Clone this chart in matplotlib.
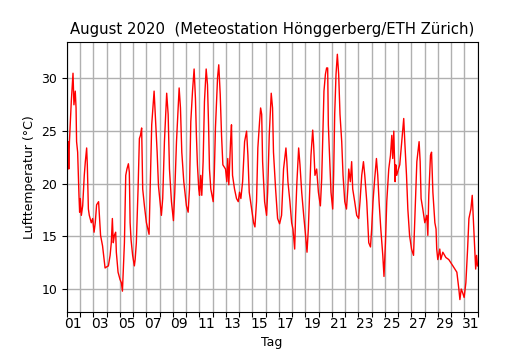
import matplotlib
matplotlib.use("Agg")
import matplotlib.pyplot as plt
from matplotlib.ticker import FixedLocator, FixedFormatter, NullFormatter

# time in days since 1 Aug 2020 00:00, air temperature in deg C
t_days = [
    0.00, 0.05, 0.10, 0.15, 0.20, 0.25, 0.34, 0.47, 0.54, 0.64, 0.70, 0.74, 0.82, 0.92, 0.97,
    1.02, 1.10, 1.20, 1.32, 1.40, 1.50, 1.55, 1.63, 1.70, 1.85, 1.95,
    2.06, 2.15, 2.25, 2.40, 2.55, 2.70, 2.89,
    3.00, 3.14, 3.27, 3.36, 3.44, 3.51, 3.59, 3.69, 3.74, 3.87,
    4.02, 4.12, 4.20, 4.35, 4.45, 4.54, 4.65, 4.72, 4.78, 4.85, 4.97,
    5.10, 5.16, 5.25, 5.38, 5.48, 5.56, 5.65, 5.73, 5.86,
    6.01, 6.21, 6.31, 6.41, 6.59, 6.69, 6.82, 6.92,
    7.14, 7.24, 7.37, 7.54, 7.65, 7.75, 7.90,
    8.05, 8.15, 8.28, 8.48, 8.58, 8.68, 8.83,
    9.03, 9.16, 9.26, 9.36, 9.49, 9.61, 9.71, 9.78, 9.86, 9.96,
    10.02, 10.11, 10.19, 10.29, 10.39, 10.52, 10.62, 10.70, 10.77, 10.87,
    11.05, 11.13, 11.22, 11.38, 11.47, 11.58, 11.68, 11.78, 11.98,
    12.08, 12.15, 12.23, 12.36, 12.43, 12.51, 12.66, 12.81, 12.94,
    13.04, 13.14, 13.27, 13.42, 13.57, 13.67, 13.77, 13.95,
    14.10, 14.20, 14.32, 14.42, 14.55, 14.63, 14.71, 14.78, 14.93,
    15.08, 15.16, 15.28, 15.43, 15.53, 15.60, 15.76, 15.91,
    16.06, 16.21, 16.36, 16.54, 16.61, 16.69, 16.84, 16.97,
    17.07, 17.20, 17.27, 17.37, 17.50, 17.60, 17.73, 17.88,
    18.00, 18.13, 18.23, 18.33, 18.43, 18.56, 18.63, 18.73, 18.86, 18.99,
    19.14, 19.24, 19.31, 19.41, 19.52, 19.61, 19.69, 19.74, 19.84, 19.94,
    20.07, 20.14, 20.22, 20.32, 20.42, 20.52, 20.62, 20.75, 20.85, 20.98,
    21.11, 21.21, 21.28, 21.40, 21.50, 21.58, 21.73, 21.88,
    22.03, 22.13, 22.26, 22.39, 22.49, 22.64, 22.79, 22.92,
    23.01, 23.11, 23.24, 23.37, 23.47, 23.57, 23.70, 23.85, 23.94,
    24.05, 24.15, 24.30, 24.43, 24.53, 24.60, 24.68, 24.78, 24.83, 24.90,
    25.03, 25.13, 25.28, 25.43, 25.51, 25.64, 25.74, 25.87,
    26.02, 26.17, 26.29, 26.42, 26.59, 26.67, 26.74, 26.87,
    27.02, 27.17, 27.25, 27.32, 27.45, 27.53, 27.63, 27.78, 27.87, 27.92,
    28.00, 28.15, 28.23, 28.38, 28.61, 28.83, 28.99,
    29.14, 29.29, 29.44, 29.59, 29.67, 29.77, 29.89, 29.99,
    30.12, 30.25, 30.35, 30.50, 30.60, 30.67, 30.78, 30.86, 30.93, 31.00,
]
temp_c = [
    22.8, 21.5, 24.0, 21.4, 24.0, 25.3, 27.8, 30.5, 27.5, 28.8, 27.2, 24.0, 23.0, 18.9, 17.3,
    18.6, 17.0, 17.9, 20.8, 22.1, 23.4, 21.8, 17.6, 17.0, 16.3, 16.7,
    15.4, 16.3, 18.0, 18.3, 15.1, 14.1, 12.0,
    12.1, 12.2, 13.2, 14.4, 16.7, 14.4, 15.1, 15.4, 13.5, 11.6,
    10.9, 10.6, 9.8, 14.4, 20.8, 21.4, 21.9, 21.1, 16.3, 14.7, 13.2,
    12.2, 12.8, 14.4, 19.5, 24.3, 24.6, 25.3, 19.5, 17.9,
    16.3, 15.2, 20.2, 25.6, 28.8, 26.2, 23.0, 19.8,
    17.0, 18.6, 24.0, 28.6, 26.6, 21.4, 18.3,
    16.5, 19.2, 24.0, 29.1, 27.2, 23.0, 20.2,
    17.9, 17.3, 19.5, 25.9, 28.8, 30.9, 28.1, 24.7, 21.8, 19.5,
    18.9, 20.8, 18.9, 22.1, 27.8, 30.9, 29.4, 25.6, 21.4, 19.5,
    18.3, 20.8, 25.3, 30.1, 31.3, 28.5, 24.6, 21.8, 21.4,
    20.2, 22.4, 19.9, 24.0, 25.6, 20.8, 19.5, 18.6, 18.3,
    19.2, 18.6, 20.2, 24.0, 25.0, 22.7, 19.2, 17.6,
    16.3, 15.9, 18.3, 23.4, 25.9, 27.2, 26.6, 22.1, 18.3,
    17.0, 19.2, 24.6, 28.6, 27.2, 23.0, 19.5, 16.7,
    16.2, 17.0, 21.4, 23.4, 22.1, 20.2, 18.3, 16.3,
    15.7, 13.8, 17.0, 20.2, 23.4, 21.8, 19.2, 17.0,
    15.4, 13.5, 15.7, 19.2, 22.7, 25.1, 23.7, 20.8, 21.4, 19.2,
    17.9, 20.5, 24.0, 28.8, 30.4, 31.0, 31.0, 25.6, 22.4, 19.2,
    17.6, 20.8, 26.6, 30.4, 32.3, 30.4, 26.6, 24.0, 20.8, 18.3,
    17.6, 19.5, 21.4, 20.2, 22.1, 19.5, 18.3, 17.0,
    16.7, 18.3, 20.8, 22.1, 20.8, 18.3, 14.4, 14.0,
    15.7, 18.3, 20.5, 22.4, 20.8, 18.3, 15.7, 13.2, 11.2,
    14.4, 18.3, 21.4, 22.7, 24.6, 22.4, 25.0, 20.2, 21.8, 20.8,
    21.4, 21.8, 24.0, 26.2, 24.0, 20.8, 17.6, 15.1,
    13.8, 13.2, 17.6, 22.1, 24.0, 22.1, 18.6, 17.6,
    16.3, 17.0, 15.1, 18.9, 22.7, 23.0, 19.2, 16.3, 15.7, 13.8,
    12.8, 13.8, 12.8, 13.5, 13.0, 12.8, 12.5,
    12.2, 11.9, 11.6, 10.0, 9.0, 10.0, 9.6, 9.2,
    10.6, 13.8, 16.7, 17.6, 18.9, 17.0, 13.8, 11.9, 13.2, 12.2,
]

day_labels = [f"{d:02d}" for d in range(1, 32, 2)]

fig = plt.figure(figsize=(5.3, 3.5), dpi=100)
ax = fig.add_axes([0.126, 0.109, 0.775, 0.771])
ax.plot(t_days, temp_c, color="red", linewidth=1.0)

ax.set_xlim(0, 31)
ax.margins(y=0.05)
ax.xaxis.set_major_locator(FixedLocator(list(range(0, 32))))
ax.xaxis.set_major_formatter(NullFormatter())
ax.xaxis.set_minor_locator(FixedLocator([d - 0.5 for d in range(1, 32, 2)]))
ax.xaxis.set_minor_formatter(FixedFormatter(day_labels))
ax.tick_params(axis="x", which="minor", length=0)
ax.set_yticks([10, 15, 20, 25, 30])
ax.grid(True, which="major", color="#b0b0b0", linewidth=1.0)

ax.set_title("August 2020  (Meteostation Hönggerberg/ETH Zürich)", fontsize=10.7)
ax.set_xlabel("Tag", fontsize=9)
ax.set_ylabel("Lufttemperatur (°C)", fontsize=9)
ax.tick_params(labelsize=9)

fig.savefig("out.png", dpi=100)
